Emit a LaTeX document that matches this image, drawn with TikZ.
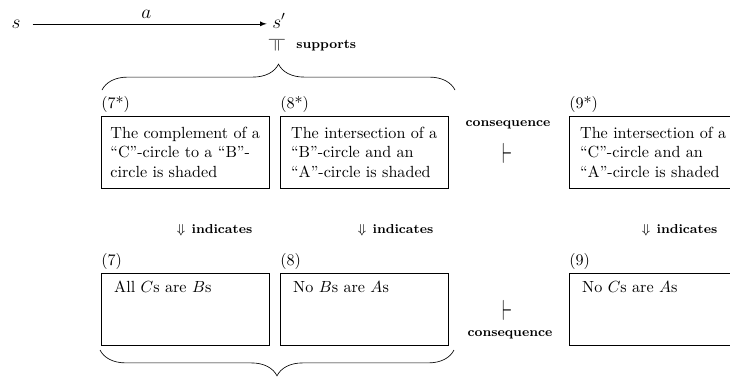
\documentclass[tikz,border=0pt]{standalone}
\usepackage[rgb]{xcolor}
\usepackage{tikz}
\usepackage{graphicx}
\usetikzlibrary{decorations.pathreplacing}

\tikzset{
  starbox/.style={draw, rectangle, anchor=north west, align=left,
    minimum width=104pt, minimum height=44.6pt, inner sep=4pt},
  plainbox/.style={draw, rectangle, anchor=north west, align=left,
    text width=88pt, inner xsep=8pt, inner ysep=4pt,
    text height=8pt, text depth=28.6pt},
  numlabel/.style={anchor=south west, inner xsep=0pt, inner ysep=2pt},
  rel/.style={font=\footnotesize\bfseries},
  bracket/.style={decorate, decoration={brace, amplitude=16pt}}
}

\begin{document}
\begin{tikzpicture}[x=0.62pt, y=-0.62pt]

\path[use as bounding box, clip] (0,0) rectangle (730,380);

% action from s to s'
\path
(16,28) node[anchor=base, font=\large](s){$s$}
(279,28) node[anchor=base, font=\large](sp){$s'$};
\draw[-latex, shorten <=4pt] (s.east) -- (s.east -| sp.west) node[midway, above, font=\large](act){$a$};

%% s' supports the shaded diagrams
\path
(277,45) node[rotate=-90, inner sep=0pt](supsym){$\models$}
(296,48) node[rel, anchor=base west, inner sep=0pt](supp){supports};

%% diagram statements
\path
(101,116) node[starbox](b7s){The complement of a\\``C''-circle to a ``B''-\\circle is shaded}
(280,116) node[starbox](b8s){The intersection of a\\``B''-circle and an\\``A''-circle is shaded}
(569,116) node[starbox](b9s){The intersection of a\\``C''-circle and an\\``A''-circle is shaded};
\path
(b7s.north west) node[numlabel](n7s){(7*)}
(b8s.north west) node[numlabel](n8s){(8*)}
(b9s.north west) node[numlabel](n9s){(9*)};

%% sentences
\path
(101,273) node[plainbox](b7){All $C$s are $B$s}
(280,273) node[plainbox](b8){No $B$s are $A$s}
(569,273) node[plainbox](b9){No $C$s are $A$s};
\path
(b7.north west) node[numlabel](n7){(7)}
(b8.north west) node[numlabel](n8){(8)}
(b9.north west) node[numlabel](n9){(9)};

%% indicates
\path
(258,230) node[rel, anchor=east](ind7){$\Downarrow$\enskip indicates}
(439,230) node[rel, anchor=east](ind8){$\Downarrow$\enskip indicates}
(723,230) node[rel, anchor=east](ind9){$\Downarrow$\enskip indicates};

%% consequence
\path
(508,125) node[rel](consA){consequence}
(507,153) node[inner sep=0pt](turnA){\scalebox{1}[1.8]{$\vdash$}}
(507,310) node[inner sep=0pt](turnB){\scalebox{1}[1.8]{$\vdash$}}
(510,335) node[rel](consB){consequence};

%% braces
\coordinate (topL) at (102,90);
\coordinate (topR) at (455,90);
\coordinate (botL) at (100,350);
\coordinate (botR) at (454,350);
\draw[bracket] (topL) -- (topR);
\draw[bracket] (botR) -- (botL);

\end{tikzpicture}
\end{document}
